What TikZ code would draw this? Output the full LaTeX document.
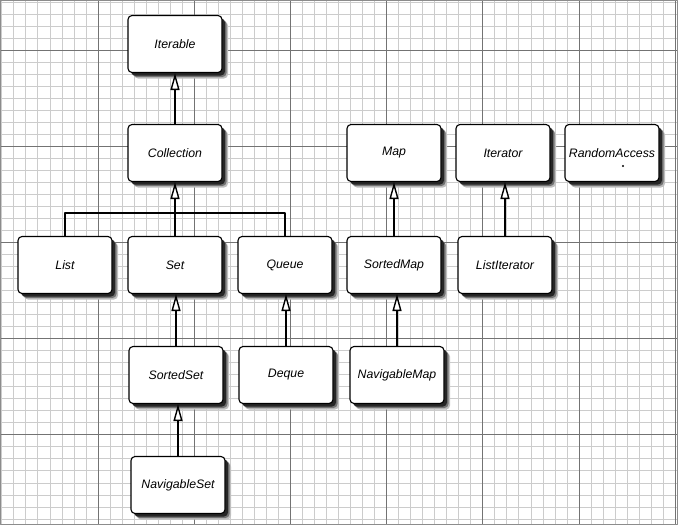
\documentclass[tikz,border=0pt]{standalone}
\usepackage{fontspec}
\setmainfont{Liberation Sans}
\usetikzlibrary{arrows.meta,shadows}
\begin{document}
\begin{tikzpicture}[x=1pt, y=-1pt, font=\fontsize{12.3}{14}\selectfont\itshape, line join=round,
	iface/.style={draw, line width=1.1pt, fill=white, rounded corners=4pt, minimum width=94pt, minimum height=57pt,
		drop shadow={shadow xshift=6pt, shadow yshift=-6pt, fill=black!25, opacity=1},
		drop shadow={shadow xshift=4.5pt, shadow yshift=-4.5pt, fill=black!55, opacity=1},
		drop shadow={shadow xshift=3pt, shadow yshift=-3pt, fill=black!85, opacity=1}},
	isa/.style={line width=1.1pt, -{Triangle[open, length=17pt, width=9pt, fill=white, line width=1.4pt]}},
	minor/.style={black!20, line width=.8pt},
	major/.style={black!55, line width=.9pt}]
	\def\xo{98} \def\yo{50} \def\cell{12.025}
	\useasboundingbox (0,0) rectangle (678,525);
	% graph paper
	\foreach \i in {-8,...,48} \draw[minor] ({\xo+\cell*\i},0) -- ({\xo+\cell*\i},525);
	\foreach \j in {-4,...,39} \draw[minor] (0,{\yo+\cell*\j}) -- (678,{\yo+\cell*\j});
	\foreach \i in {0,...,6} \draw[major] ({\xo+8*\cell*\i},0) -- ({\xo+8*\cell*\i},525);
	\foreach \j in {0,...,4} \draw[major] (0,{\yo+8*\cell*\j}) -- (678,{\yo+8*\cell*\j});
	\draw[black!45, line width=1pt] (0.5,0.5) rectangle (677.5,524.5);
	% interfaces
	\node[iface] (iterable) at (175,44) {Iterable};
	\node[iface] (collection) at (175,153) {Collection};
	\node[iface] (map) at (394,153) {Map};
	\node[iface] (iterator) at (503,153) {Iterator};
	\node[iface] (randomaccess) at (612,153) {RandomAccess};
	\node[iface] (list) at (65,265) {List};
	\node[iface] (set) at (175,265) {Set};
	\node[iface] (queue) at (285,265) {Queue};
	\node[iface] (sortedmap) at (394,265) {SortedMap};
	\node[iface] (listiterator) at (505,265) {ListIterator};
	\node[iface] (sortedset) at (176,375) {SortedSet};
	\node[iface] (deque) at (286,375) {Deque};
	\node[iface] (navigablemap) at (397,375) {NavigableMap};
	\node[iface] (navigableset) at (178,485) {NavigableSet};
	\fill (623,166) circle (1.2pt);
	% inheritance
	\coordinate (fork) at (175,213);
	\draw[isa] (collection) -- (iterable);
	\draw[isa] (set) -- (collection);
	\draw[line width=1.1pt] (list.north) |- (fork) -| (queue.north);
	\draw[isa] (sortedmap) -- (map);
	\draw[isa] (listiterator.north) -- (listiterator.north |- iterator.south);
	\draw[isa] (sortedset.north) -- (sortedset.north |- set.south);
	\draw[isa] (deque.north) -- (deque.north |- queue.south);
	\draw[isa] (navigablemap.north) -- (navigablemap.north |- sortedmap.south);
	\draw[isa] (navigableset.north) -- (navigableset.north |- sortedset.south);
\end{tikzpicture}
\end{document}
